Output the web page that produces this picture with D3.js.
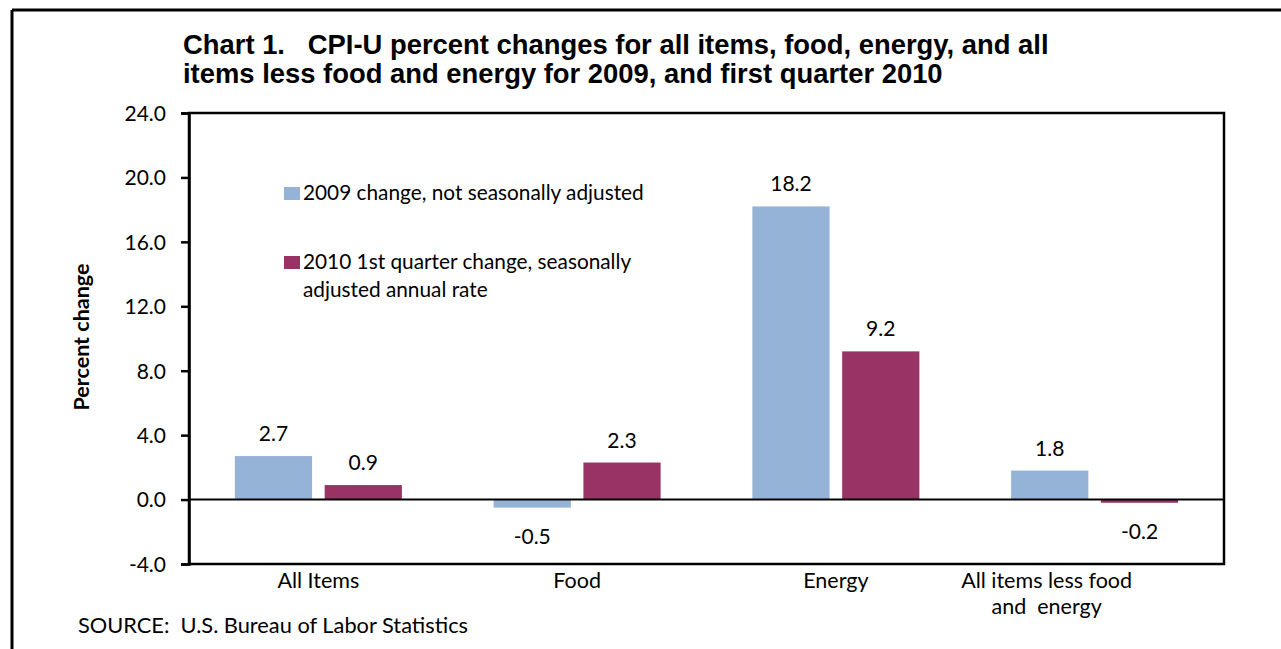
<!DOCTYPE html>
<html>
<head>
<meta charset="utf-8">
<script src="https://cdn.jsdelivr.net/npm/d3@7"></script>
<style>
  html, body { margin: 0; padding: 0; background: #fff; }
  svg { display: block; }
  text { font-family: Lato, "Open Sans", sans-serif; fill: #000; }
  .title { font-family: "Liberation Sans", Arial, sans-serif; font-weight: bold; }
</style>
</head>
<body>
<svg id="chart" width="1281" height="649"></svg>
<script>
const categories = ["All Items", "Food", "Energy", "All items less food and energy"];
const categoryLines = [["All Items"], ["Food"], ["Energy"], ["All items less food", "and  energy"]];
const seriesNames = ["2009 change, not seasonally adjusted", "2010 1st quarter change, seasonally adjusted annual rate"];
const legendLines = [["2009 change, not seasonally adjusted"], ["2010 1st quarter change, seasonally", "adjusted annual rate"]];
const values2009 = [2.7, -0.5, 18.2, 1.8];
const values2010 = [0.9, 2.3, 9.2, -0.2];
const yTicks = [-4, 0, 4, 8, 12, 16, 20, 24];
const titleLines = ["Chart 1.   CPI-U percent changes for all items, food, energy, and all",
                    "items less food and energy for 2009, and first quarter 2010"];
const colors = ["#95B3D7", "#993366"];

(function () {
const svg = d3.select("#chart");
const pL = 189, pR = 1224, pT = 113, pB = 564;

// outer frame lines
svg.append("line").attr("x1", 12).attr("x2", 1281).attr("y1", 10).attr("y2", 10).attr("stroke", "#000").attr("stroke-width", 3);
svg.append("line").attr("x1", 12).attr("x2", 12).attr("y1", 10).attr("y2", 649).attr("stroke", "#000").attr("stroke-width", 3);

// title
svg.append("g").selectAll("text").data(titleLines).join("text")
  .attr("class", "title")
  .attr("x", 183).attr("y", (d, i) => 54 + i * 29)
  .attr("font-size", 27.4)
  .style("white-space", "pre")
  .text(d => d);

const x0 = d3.scaleBand().domain(categories).range([pL, pR]);
const x1 = d3.scaleBand().domain([0, 1]).range([0, 167]).paddingInner(0.14);
const y = d3.scaleLinear().domain([-4, 24]).range([pB, pT]);

const data = categories.map((c, i) => ({ cat: c, vals: [values2009[i], values2010[i]] }));

// bars
const groups = svg.append("g").selectAll("g").data(data).join("g")
  .attr("transform", d => `translate(${x0(d.cat) + x0.bandwidth() / 2 - 83.5},0)`);
groups.selectAll("rect").data(d => d.vals.map((v, s) => ({ v, s }))).join("rect")
  .attr("x", d => x1(d.s))
  .attr("width", x1.bandwidth())
  .attr("y", d => y(Math.max(0, d.v)))
  .attr("height", d => Math.abs(y(d.v) - y(0)))
  .attr("fill", d => colors[d.s]);
groups.selectAll("text").data(d => d.vals.map((v, s) => ({ v, s }))).join("text")
  .attr("x", d => x1(d.s) + x1.bandwidth() / 2)
  .attr("y", d => d.v >= 0 ? y(d.v) - 15 : y(d.v) + 36)
  .attr("text-anchor", "middle")
  .attr("font-size", 21)
  .text(d => d.v.toFixed(1));

// zero line
svg.append("line").attr("x1", pL).attr("x2", pR).attr("y1", y(0)).attr("y2", y(0))
  .attr("stroke", "#000").attr("stroke-width", 2);

// plot border
svg.append("rect").attr("x", pL).attr("y", pT).attr("width", pR - pL).attr("height", pB - pT)
  .attr("fill", "none").attr("stroke", "#000").attr("stroke-width", 2.5);

// y axis
const yAxis = svg.append("g").attr("transform", `translate(${pL},0)`)
  .call(d3.axisLeft(y).tickValues(yTicks).tickFormat(d => d.toFixed(1)).tickSize(8).tickPadding(15));
yAxis.select(".domain").attr("stroke-width", 2.5);
yAxis.selectAll(".tick line").attr("stroke-width", 2.5);
yAxis.selectAll(".tick text").attr("font-size", 21).attr("font-family", "Lato, 'Open Sans', sans-serif").attr("dy", "0.35em");

// y title
svg.append("text")
  .attr("transform", "translate(89,337) rotate(-90)")
  .attr("text-anchor", "middle")
  .attr("font-size", 21.5).attr("font-weight", "bold")
  .text("Percent change");

// category labels
const catOffsets = [0, 0, 0, -48];
svg.append("g").selectAll("text").data(categories).join("text")
  .attr("x", (d, i) => x0(d) + x0.bandwidth() / 2 + catOffsets[i])
  .attr("y", 588)
  .attr("text-anchor", "middle")
  .attr("font-size", 21.5)
  .style("white-space", "pre")
  .each(function(d, i) {
    d3.select(this).selectAll("tspan").data(categoryLines[i]).join("tspan")
      .attr("x", x0(d) + x0.bandwidth() / 2 + catOffsets[i])
      .attr("dy", (t, j) => j === 0 ? 0 : 25.5)
      .text(t => t);
  });

// legend
const legendY = [187, 256];
const leg = svg.append("g").selectAll("g").data(seriesNames).join("g");
leg.append("rect").attr("x", 284).attr("y", (d, i) => legendY[i]).attr("width", 16).attr("height", 13)
  .attr("fill", (d, i) => colors[i]);
leg.append("text").attr("font-size", 20.8)
  .each(function(d, i) {
    d3.select(this).selectAll("tspan").data(legendLines[i]).join("tspan")
      .attr("x", 303)
      .attr("y", (t, j) => legendY[i] + 13 + j * 28)
      .text(t => t);
  });

// source
svg.append("text").attr("x", 78).attr("y", 633).attr("font-size", 21.8)
  .style("white-space", "pre")
  .text("SOURCE:  U.S. Bureau of Labor Statistics");
})();
</script>
</body>
</html>
